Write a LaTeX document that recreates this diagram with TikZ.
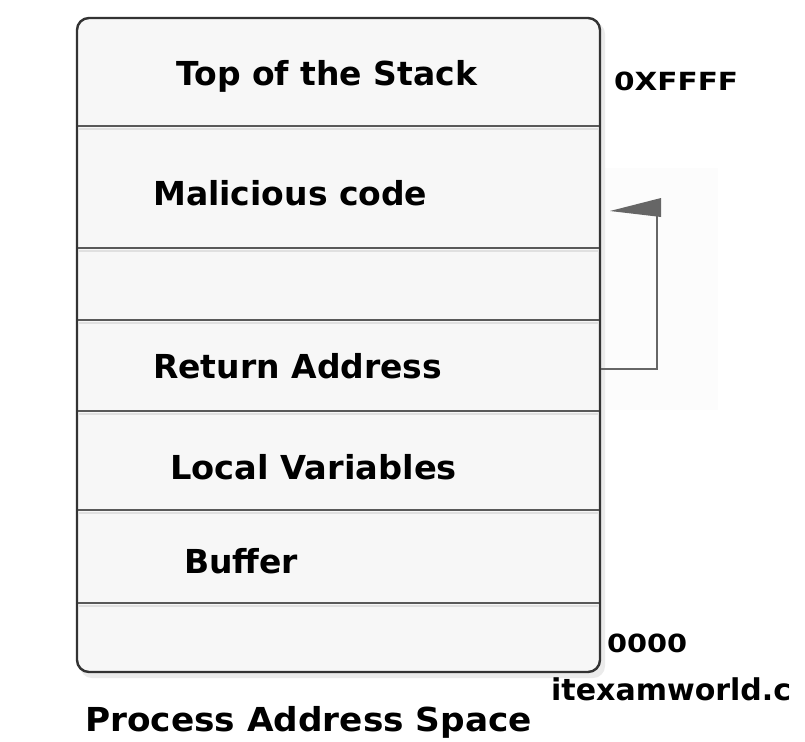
\documentclass[tikz,border=0pt]{standalone}
\usepackage{fontspec}
\setmainfont{DejaVu Sans}
\begin{document}
\begin{tikzpicture}[x=1pt,y=-1pt,
  lbl/.style={font=\bfseries\fontsize{33}{36}\selectfont, inner sep=0pt, anchor=west},
  addr/.style={font=\bfseries\fontsize{25}{28}\selectfont, inner sep=0pt, anchor=west},
  divider/.style={draw=black!65, line width=1.4pt},
  conn/.style={draw=black!60, line width=1.3pt}]
\useasboundingbox (0,0) rectangle (805,741);
\fill[white] (0,0) rectangle (805,741);
% faint panel behind connector
\fill[black!1] (600,168) rectangle (718,410);
% shadow
\fill[black!8, rounded corners=12pt] (80,22) rectangle (605,678);
% main box
\draw[fill=black!3, draw=black!80, line width=2.4pt, rounded corners=12pt] (77,18) rectangle (600,672);
% dividers
\foreach \yy in {126,248,320,411,510,603} {
  \draw[divider] (78,\yy) -- (599,\yy);
  \draw[black!12, line width=1.2pt] (78,\yy+3) -- (599,\yy+3);
}
% texts
\node[lbl] (top) at (176,76) {Top of the Stack};
\node[lbl] (mal) at (153,193) {Malicious code};
\node[lbl] (ret) at (153,366) {Return Address};
\node[lbl] (loc) at (170,467) {\scalebox{1.02}[1]{Local Variables}};
\node[lbl] (buf) at (184,561) {Buffer};
\node[addr] (hi) at (614,81) {\scalebox{1.18}[1]{0XFFFF}};
\node[addr] (lo) at (607,643) {\scalebox{1.15}[1]{0000}};
\node[lbl, font=\bfseries\fontsize{30}{33}\selectfont] (site) at (551,689) {itexamworld.c};
\node[lbl] (cap) at (85,722) {\scalebox{1.04}[1]{Process Address Space}};
% connector
\coordinate (rs) at (601,369);
\coordinate (tip) at (610,211);
\coordinate (bend1) at (657,369);
\coordinate (bend2) at (657,214);
\draw[conn] (rs) -- (bend1) -- (bend2);
\fill[black!60] (tip) -- (661,198) -- (661,217) -- cycle;
\end{tikzpicture}
\end{document}
